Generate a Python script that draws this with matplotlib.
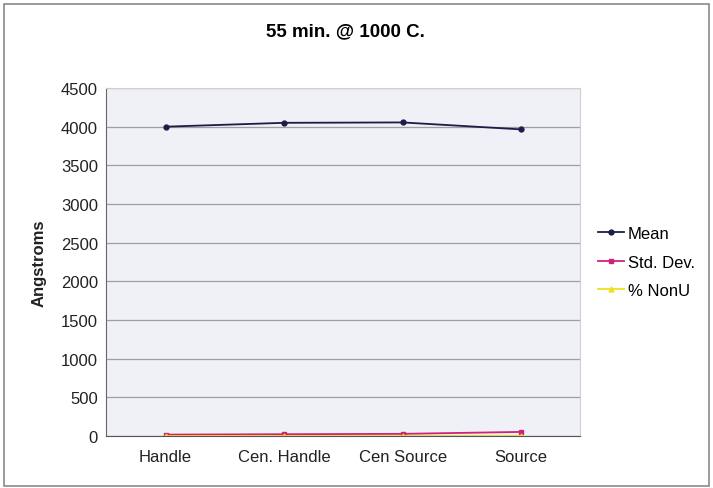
import matplotlib
matplotlib.use("Agg")
import matplotlib.pyplot as plt
from matplotlib.patches import Rectangle

plt.rcParams["font.family"] = ["Liberation Sans", "DejaVu Sans"]

# ── Data ──────────────────────────────────────────────────────────────────
positions = ["Handle", "Cen. Handle", "Cen Source", "Source"]
mean      = [4000, 4050, 4055, 3965]
std_dev   = [20, 25, 30, 55]
pct_nonu  = [0.5, 0.6, 0.7, 1.4]
y_ticks   = list(range(0, 4501, 500))

fig = plt.figure(figsize=(7.13, 4.89), dpi=100)
fig.patch.set_facecolor("white")

# outer chart border
fig.add_artist(Rectangle((0.005, 0.005), 0.99, 0.985, transform=fig.transFigure,
                         fill=False, edgecolor="#8a8a8a", linewidth=1.2))

ax = fig.add_axes([0.149, 0.106, 0.665, 0.712])
ax.set_facecolor("#f0f1f6")

x = range(len(positions))
ax.plot(x, mean, color="#1c1c4a", marker="o", markersize=3.5, linewidth=1.3, label="Mean")
ax.plot(x, std_dev, color="#d0207a", marker="s", markersize=3.5, linewidth=1.3, label="Std. Dev.")
ax.plot(x, pct_nonu, color="#f0e020", marker="^", markersize=3.5, linewidth=1.3, label="% NonU")

ax.set_xlim(-0.5, len(positions) - 0.5)
ax.set_ylim(0, 4500)
ax.set_yticks(y_ticks)
ax.set_xticks(list(x))
ax.set_xticklabels(positions)
ax.tick_params(axis="both", labelsize=12, length=0, colors="#222222", pad=9)
ax.tick_params(axis="y", pad=6)

ax.grid(axis="y", color="#a0a0a0", linewidth=0.9)
ax.set_axisbelow(True)
for side in ["top", "right"]:
    ax.spines[side].set_color("#d0d0d0")
ax.spines["left"].set_color("#666666")
ax.spines["bottom"].set_color("#555555")

ax.set_ylabel("Angstroms", fontsize=12, fontweight="bold", color="#222222", labelpad=10)
fig.suptitle("55 min. @ 1000 C.", fontsize=13.5, fontweight="bold", y=0.952, x=0.485)

ax.legend(loc="center left", bbox_to_anchor=(1.005, 0.5), frameon=False,
          fontsize=12, handlelength=1.6, handletextpad=0.2, labelspacing=0.8)

fig.savefig("out.png", dpi=100)
